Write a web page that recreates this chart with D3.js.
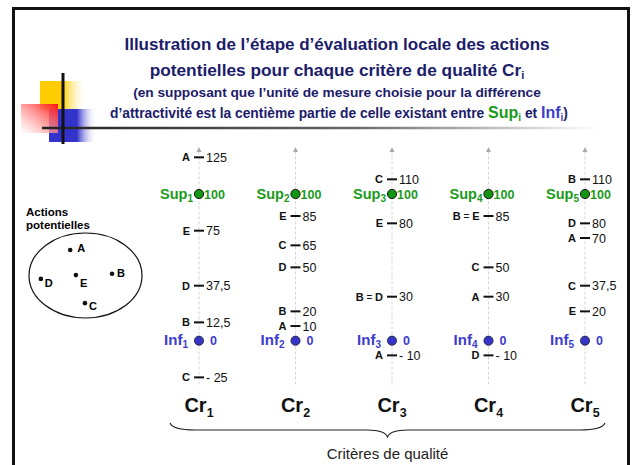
<!DOCTYPE html>
<html>
<head>
<meta charset="utf-8">
<script src="https://cdn.jsdelivr.net/npm/d3@7"></script>
<style>
body { margin: 0; background: #fff; }
text { font-family: "Liberation Sans", Arial, Helvetica, sans-serif; }
</style>
</head>
<body>
<div id="chart"></div>
<script>
// --- data ---
var criteria = ["1", "2", "3", "4", "5"];
var actionNames = ["A", "B", "C", "D", "E"];
// scores of A..E on each criterion
var scoresCr1 = [125, 12.5, -25, 37.5, 75];
var scoresCr2 = [10, 20, 65, 50, 85];
var scoresCr3 = [-10, 30, 110, 30, 80];
var scoresCr4 = [30, 85, 50, -10, 85];
var scoresCr5 = [70, 110, 37.5, 80, 20];
var allScores = [scoresCr1, scoresCr2, scoresCr3, scoresCr4, scoresCr5];
var supValue = 100, infValue = 0;
// where the actions sit inside the "actions potentielles" ellipse (-1..1)
var ellipseX = [-0.27, 0.47, -0.01, -0.79, -0.17];
var ellipseY = [-0.6, -0.04, 0.65, 0.08, -0.01];

var width = 634, height = 465;
var green = "#1a9a1a", blue = "#3c3ccc", navy = "#1c1c6a";

var svg = d3.select("#chart").append("svg")
  .attr("width", width)
  .attr("height", height)
  .style("display", "block");

var defs = svg.append("defs");
function hgrad(id, color, stop) {
  var g = defs.append("linearGradient").attr("id", id);
  g.append("stop").attr("offset", "0%").attr("stop-color", color);
  g.append("stop").attr("offset", stop).attr("stop-color", color);
  g.append("stop").attr("offset", "100%").attr("stop-color", "#fff").attr("stop-opacity", 0);
}
hgrad("gYellow", "#ffcc00", "48%");
hgrad("gBlue", "#3333cc", "58%");
var gr = defs.append("linearGradient").attr("id", "gRed")
  .attr("x1", 1).attr("y1", 0).attr("x2", 0).attr("y2", 1);
gr.append("stop").attr("offset", "0%").attr("stop-color", "#ff1010");
gr.append("stop").attr("offset", "100%").attr("stop-color", "#fff").attr("stop-opacity", 0.6);
var gl = defs.append("linearGradient").attr("id", "gLine")
  .attr("gradientUnits", "userSpaceOnUse")
  .attr("x1", 42).attr("x2", 600).attr("y1", 0).attr("y2", 0);
gl.append("stop").attr("offset", "0%").attr("stop-color", "#222");
gl.append("stop").attr("offset", "55%").attr("stop-color", "#666");
gl.append("stop").attr("offset", "100%").attr("stop-color", "#fff");

// logo
var logo = svg.append("g");
logo.append("rect").attr("x", 40).attr("y", 81).attr("width", 47).attr("height", 29).attr("fill", "url(#gYellow)");
logo.append("rect").attr("x", 49).attr("y", 109).attr("width", 48).attr("height", 33).attr("fill", "url(#gBlue)");
logo.append("rect").attr("x", 21).attr("y", 104).attr("width", 37).attr("height", 29).attr("fill", "url(#gRed)");
logo.append("line").attr("x1", 42).attr("x2", 600).attr("y1", 128).attr("y2", 128)
  .attr("stroke", "url(#gLine)").attr("stroke-width", 2.5);
logo.append("line").attr("x1", 63).attr("x2", 63).attr("y1", 73).attr("y2", 144)
  .attr("stroke", "#111").attr("stroke-width", 3);

// title
var cx = 337;
svg.append("text").attr("x", cx).attr("y", 50).attr("text-anchor", "middle")
  .attr("font-size", 17).attr("font-weight", "bold").attr("fill", navy)
  .text("Illustration de l\u2019étape d\u2019évaluation locale des actions");
var t2 = svg.append("text").attr("x", cx).attr("y", 76).attr("text-anchor", "middle")
  .attr("font-size", 17.3).attr("font-weight", "bold").attr("fill", navy);
t2.append("tspan").text("potentielles pour chaque critère de qualité Cr");
t2.append("tspan").attr("font-size", 11).attr("dy", 3).text("i");
svg.append("text").attr("x", cx).attr("y", 97).attr("text-anchor", "middle")
  .attr("font-size", 13.7).attr("font-weight", "bold").attr("fill", navy)
  .text("(en supposant que l\u2019unité de mesure choisie pour la différence");
var t4 = svg.append("text").attr("x", 339).attr("y", 118).attr("text-anchor", "middle")
  .attr("font-size", 13.8).attr("font-weight", "bold").attr("fill", navy);
t4.append("tspan").text("d\u2019attractivité est la centième partie de celle existant entre ");
t4.append("tspan").attr("fill", green).attr("font-size", 16).text("Sup");
t4.append("tspan").attr("fill", green).attr("font-size", 10).attr("dy", 3).text("i");
t4.append("tspan").attr("dy", -3).text(" et ");
t4.append("tspan").attr("fill", blue).attr("font-size", 16).text("Inf");
t4.append("tspan").attr("fill", blue).attr("font-size", 10).attr("dy", 3).text("i");
t4.append("tspan").attr("dy", -3).text(")");

// actions potentielles
svg.append("text").attr("x", 26).attr("y", 216).attr("font-size", 11.5).attr("font-weight", "bold").text("Actions");
svg.append("text").attr("x", 26).attr("y", 229).attr("font-size", 11.5).attr("font-weight", "bold").text("potentielles");
var ex = d3.scaleLinear().domain([-1, 1]).range([29, 142]);
var ey = d3.scaleLinear().domain([-1, 1]).range([233, 318]);
svg.append("ellipse")
  .attr("cx", ex(0)).attr("cy", ey(0))
  .attr("rx", ex(1) - ex(0)).attr("ry", ey(1) - ey(0))
  .attr("fill", "none").attr("stroke", "#111").attr("stroke-width", 1.2);
var labelOff = { A: [7, 2], B: [5, 3], C: [4, 7], D: [4, 8], E: [4, 12] };
var pts = svg.append("g").selectAll("g").data(actionNames).enter().append("g");
pts.append("circle")
  .attr("cx", function(d, i) { return ex(ellipseX[i]); })
  .attr("cy", function(d, i) { return ey(ellipseY[i]); })
  .attr("r", 2.3).attr("fill", "#111");
pts.append("text")
  .attr("x", function(d, i) { return ex(ellipseX[i]) + labelOff[d][0]; })
  .attr("y", function(d, i) { return ey(ellipseY[i]) + labelOff[d][1]; })
  .attr("font-size", 11).attr("font-weight", "bold")
  .text(function(d) { return d; });

// scales for the criteria
var x = d3.scalePoint().domain(criteria).range([199, 585]);
var y = d3.scaleLinear().domain([0, 100]).range([340.7, 194]);

function fmt(v) {
  var s = String(Math.abs(v)).replace(".", ",");
  return v < 0 ? "- " + s : s;
}

var axes = svg.append("g").selectAll("g").data(criteria).enter().append("g")
  .attr("transform", function(d) { return "translate(" + x(d) + ",0)"; });

axes.append("line")
  .attr("y1", y(129)).attr("y2", y(-30))
  .attr("stroke", "#d6d6d6").attr("stroke-dasharray", "3,2").attr("stroke-width", 1);
axes.append("path")
  .attr("d", "M0," + (y(130) - 3) + "L-2.5," + (y(130) + 2) + "L2.5," + (y(130) + 2) + "Z")
  .attr("fill", "#aaa");

// action ticks, ties grouped
axes.each(function(c, ci) {
  var g = d3.select(this);
  var groups = d3.groups(actionNames.map(function(n, i) { return { name: n, v: allScores[ci][i] }; }),
    function(d) { return d.v; });
  groups.forEach(function(gp) {
    var v = gp[0], yy = y(v);
    g.append("line").attr("x1", -5).attr("x2", 5).attr("y1", yy).attr("y2", yy)
      .attr("stroke", "#111").attr("stroke-width", 2);
    var lt = g.append("text").attr("x", -9).attr("y", yy + 4).attr("text-anchor", "end")
      .attr("font-size", 11).attr("font-weight", "bold").attr("fill", "#111");
    gp[1].forEach(function(a, k) {
      if (k > 0) lt.append("tspan").attr("font-weight", "normal").attr("font-size", 10).text(" = ");
      lt.append("tspan").text(a.name);
    });
    g.append("text").attr("x", 7).attr("y", yy + 4.5)
      .attr("font-size", 12.5).attr("fill", "#111")
      .text(fmt(v));
  });

  // Sup / Inf reference points
  g.append("circle").attr("cy", y(supValue)).attr("r", 4.6)
    .attr("fill", "#129612").attr("stroke", "#111").attr("stroke-width", 1);
  var st = g.append("text").attr("x", -6).attr("y", y(supValue) + 5).attr("text-anchor", "end")
    .attr("font-size", 14.5).attr("font-weight", "bold").attr("fill", green);
  st.append("tspan").text("Sup");
  st.append("tspan").attr("font-size", 10).attr("dy", 3).text(c);
  g.append("text").attr("x", 5).attr("y", y(supValue) + 4.5)
    .attr("font-size", 12.5).attr("font-weight", "bold").attr("fill", green).text(String(supValue));

  g.append("circle").attr("cy", y(infValue)).attr("r", 4.6)
    .attr("fill", "#3535c8").attr("stroke", "#222").attr("stroke-width", 0.8);
  var it = g.append("text").attr("x", -11).attr("y", y(infValue) + 4.5).attr("text-anchor", "end")
    .attr("font-size", 15).attr("font-weight", "bold").attr("fill", blue);
  it.append("tspan").text("Inf");
  it.append("tspan").attr("font-size", 10).attr("dy", 3).text(c);
  g.append("text").attr("x", 11).attr("y", y(infValue) + 4.5)
    .attr("font-size", 12.5).attr("font-weight", "bold").attr("fill", blue).text(String(infValue));

  // criterion name
  var ct = g.append("text").attr("y", 412).attr("text-anchor", "middle")
    .attr("font-size", 20).attr("font-weight", "bold").attr("fill", "#111");
  ct.append("tspan").text("Cr");
  ct.append("tspan").attr("font-size", 12.5).attr("dy", 5).text(c);
});

// brace under criteria
var bx0 = x(criteria[0]) - 29, bx1 = x(criteria[criteria.length - 1]) + 20;
var bm = (bx0 + bx1) / 2, by = 423;
svg.append("path")
  .attr("d", "M" + bx0 + "," + by +
    "Q" + (bx0 + 3) + "," + (by + 7) + " " + (bx0 + 25) + "," + (by + 7) +
    "L" + (bm - 20) + "," + (by + 7) +
    "Q" + (bm - 3) + "," + (by + 7) + " " + bm + "," + (by + 14) +
    "Q" + (bm + 3) + "," + (by + 7) + " " + (bm + 20) + "," + (by + 7) +
    "L" + (bx1 - 25) + "," + (by + 7) +
    "Q" + (bx1 - 3) + "," + (by + 7) + " " + bx1 + "," + by)
  .attr("fill", "none").attr("stroke", "#222").attr("stroke-width", 1.1);
svg.append("text").attr("x", bm).attr("y", 459).attr("text-anchor", "middle")
  .attr("font-size", 15).attr("fill", "#222").text("Critères de qualité");

// slide frame, drawn last so nothing covers it
svg.append("line").attr("x1", 12).attr("x2", 630).attr("y1", 8.5).attr("y2", 8.5)
  .attr("stroke", "#111").attr("stroke-width", 3);
svg.append("line").attr("x1", 13.5).attr("x2", 13.5).attr("y1", 7).attr("y2", 465)
  .attr("stroke", "#111").attr("stroke-width", 3);
svg.append("line").attr("x1", 628.5).attr("x2", 628.5).attr("y1", 7).attr("y2", 465)
  .attr("stroke", "#111").attr("stroke-width", 3);
</script>
</body>
</html>
